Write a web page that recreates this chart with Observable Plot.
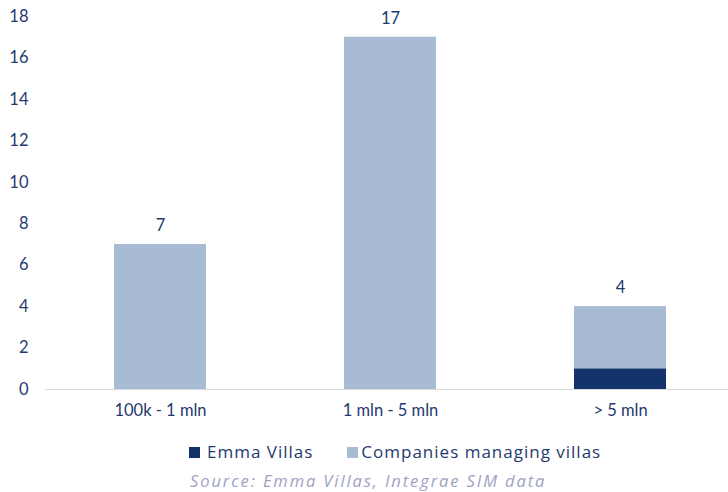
<!DOCTYPE html>
<html>
<head>
<meta charset="utf-8">
<script src="https://cdn.jsdelivr.net/npm/d3@7"></script>
<script src="https://cdn.jsdelivr.net/npm/@observablehq/plot@0.6"></script>
<style>
  html, body { margin: 0; padding: 0; background: #fff; }
  body { width: 728px; height: 492px; overflow: hidden; font-family: Lato, "Noto Sans", sans-serif; color: #1f3a6e; }
  #legend { display: flex; align-items: center; margin-left: 189px; margin-top: 17px; font-family: "Open Sans", sans-serif; font-size: 17px; letter-spacing: 1px; height: 20px; line-height: 20px; }
  .item { display: flex; align-items: center; }
  .sw { width: 11px; height: 11px; margin-right: 7px; }
  #caption { margin-left: 190px; margin-top: 10px; font-family: "Open Sans", sans-serif; font-size: 16.5px; line-height: 18px; letter-spacing: 1.9px; font-style: italic; color: #9ea2c2; white-space: nowrap; }
</style>
</head>
<body>
<div id="chart"></div>
<div id="legend"></div>
<div id="caption">Source: Emma Villas, Integrae SIM data</div>
<script>
const categories = ["100k - 1 mln", "1 mln - 5 mln", "> 5 mln"];
const series = ["Emma Villas", "Companies managing villas"];
const emmaVillas = [0, 0, 1];
const companies = [7, 17, 3];
const totals = [7, 17, 4];
const yTicks = [0, 2, 4, 6, 8, 10, 12, 14, 16, 18];
const colors = ["#14336b", "#a7bcd4"];

const rows = [];
categories.forEach((c, i) => {
  rows.push({category: c, series: series[0], value: emmaVillas[i]});
  rows.push({category: c, series: series[1], value: companies[i]});
});
const totalRows = categories.map((c, i) => ({category: c, total: totals[i]}));

const navy = "#1f3a6e";
const chart = Plot.plot({
  width: 728,
  height: 425,
  marginTop: 16,
  marginBottom: 36,
  marginLeft: 45,
  marginRight: 0,
  style: {fontFamily: "Lato, 'Noto Sans', sans-serif", fontSize: "16.5px", color: navy, background: "#fff"},
  x: {domain: categories, range: [45, 735], paddingInner: 0.6, paddingOuter: 0.3, label: null},
  y: {domain: [0, 18], label: null},
  color: {domain: series, range: colors},
  marks: [
    Plot.barY(rows, {x: "category", y: "value", fill: "series", order: series}),
    Plot.ruleY([0], {stroke: "#d9d9d9", strokeWidth: 1}),
    Plot.text(totalRows, {x: "category", y: "total", text: d => String(d.total), dy: -19, fill: navy, fontSize: 16.5}),
    Plot.axisY({ticks: yTicks, tickSize: 0, tickPadding: 17, textAnchor: "end", fill: navy, label: null}),
    Plot.axisX({tickSize: 0, tickPadding: 15, fill: navy, label: null})
  ]
});
document.getElementById("chart").appendChild(chart);

const legend = document.getElementById("legend");
series.forEach((s, i) => {
  const item = document.createElement("div");
  item.className = "item";
  if (i > 0) item.style.marginLeft = "34px";
  const sw = document.createElement("div");
  sw.className = "sw";
  sw.style.background = colors[i];
  if (i > 0) sw.style.marginRight = "3px";
  const t = document.createElement("span");
  t.textContent = s;
  item.appendChild(sw);
  item.appendChild(t);
  legend.appendChild(item);
});
</script>
</body>
</html>
